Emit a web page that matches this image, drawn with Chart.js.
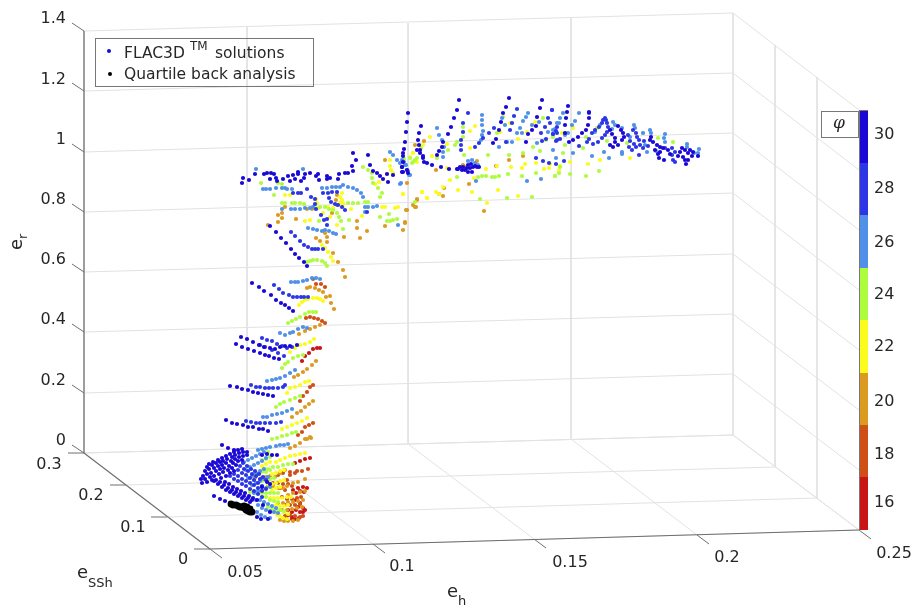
<!DOCTYPE html>
<html>
<head>
<meta charset="utf-8">
<style>
  html, body { margin: 0; padding: 0; background: #fff; }
  canvas { display: block; }
</style>
<script src="https://cdn.jsdelivr.net/npm/chart.js@4"></script>
</head>
<body>
<canvas id="chart" width="915" height="609"></canvas>
<script>
// solutions as they land on the view plane of the 3D plot, one list per phi class
const phi30 = [
  [222,445],[228,448],[234,450],[214,496],[220,499],[225,501],[231,503],
  [207,467],[212,465],[216,463],[220,462],[223,461],[227,459],[232,457],[235,455],[239,453],[243,452],[247,452],
  [209,464],[213,462],[218,460],[222,458],[226,456],[230,454],[234,452],[238,450],[242,449],
  [205,471],[209,469],[214,468],[218,466],[222,465],[226,463],[231,461],[235,459],[239,457],[243,456],[247,455],
  [203,476],[207,474],[211,473],[216,471],[220,469],[224,468],[229,466],[233,463],[238,461],[242,460],
  [201,479],[205,479],[210,477],[214,476],[219,474],[223,472],[228,470],[232,468],[236,465],
  [202,483],[207,482],[212,480],[216,480],[221,478],[226,476],[230,473],[234,471],
  [214,481],[218,484],[222,487],[226,490],[230,492],[234,494],[238,496],[242,498],[246,500],[250,502],
  [225,482],[229,484],[233,487],[237,489],[241,491],[245,493],[249,496],[253,498],[257,500],
  [220,482],[224,485],[228,488],[232,490],[236,492],[240,494],[244,496],[248,498],[252,500],
  [262,455],[267,454],[272,455],[277,455],[257,517],[261,519],[268,519],[270,484],[267,482],[262,487],[263,505],[270,512],
  [252,283],[259,287],[264,291],[271,295],[276,300],[281,303],[285,305],[289,308],[293,311],
  [241,337],[247,339],[253,342],[259,345],[264,347],[270,348],[275,349],[280,347],[285,346],[290,346],[297,345],
  [236,344],[242,347],[248,349],[254,351],[260,353],[265,355],[269,356],[274,358],[279,359],
  [230,386],[237,387],[242,389],[248,390],[253,392],[258,393],[263,394],[268,395],[273,396],
  [226,420],[232,423],[237,424],[243,425],[248,427],[253,427],[259,429],[263,429],[268,431],
  [242,183],[243,178],[249,180],[255,174],[264,174],[267,173],[271,173],[274,174],[270,179],[276,178],[277,181],[283,179],
  [288,176],[290,181],[293,175],[298,174],[298,172],[295,179],[301,181],[304,178],[305,174],[310,173],[316,176],[318,174],
  [319,180],[327,176],[327,179],[330,178],[339,174],[338,179],[345,173],[348,173],[353,171],[352,166],[356,160],[353,153],
  [270,226],[276,232],[281,238],[286,243],[291,249],[295,254],[299,258],[304,262],[307,266],
  [368,155],[370,165],[373,171],[377,173],[380,176],[383,179],[388,182],[393,175],[387,174],[403,153],[402,167],[403,172],[407,170],[408,173],
  [417,150],[420,153],[423,158],
  [459,100],[457,110],[454,118],[451,127],[448,134],[443,142],[442,147],[439,151],[437,155],
  [421,126],[419,133],[418,140],[419,145],[420,150],[423,156],[424,162],[427,163],[432,165],[441,167],[449,169],[457,169],
  [408,113],[407,122],[406,132],[405,142],[404,149],[403,156],[403,162],[402,167],[402,172],
  [509,98],[506,107],[503,113],[501,122],[499,130],[496,139],[493,143],
  [542,100],[540,108],[537,117],[536,126],[532,130],[528,134],[526,142],
  [458,169],[462,170],[463,167],[465,170],[467,168],[468,165],[470,168],[472,172],[473,167],[475,166],[477,167],[479,167],[471,164],[468,172],[460,167],
  [568,106],[567,112],[566,118],[565,125],[565,133],
  [589,112],[589,118],[588,125],[586,130],[582,133],[578,137],[573,140],[569,142],
  [618,126],[621,130],[623,133],[624,137],[622,140],[618,145],[613,147],
  [610,130],[612,134],[615,138],[615,142],[610,145],
  [651,137],[650,140],[653,142],[657,145],[660,147],[663,148],[660,152],[659,158],[664,160],
  [655,150],[658,154],[668,150],[670,154],[678,156],[680,152],[690,150],[692,156],[688,160],
  [682,148],[685,150],[688,153],[683,157],[685,160],[686,164],[693,152],[698,156]
];
const phi28 = [
  [230,476],[234,479],[238,481],[242,484],[246,486],[250,489],[254,491],[258,494],[262,497],
  [238,470],[242,473],[246,475],[250,478],[254,480],[258,483],[262,486],[266,489],
  [243,463],[247,466],[251,469],[255,471],[259,474],[263,477],[266,480],
  [234,474],[238,476],[242,479],[246,481],[250,483],[254,485],[258,488],[262,491],
  [240,466],[244,469],[248,471],[252,474],[256,476],[260,479],
  [274,285],[279,289],[283,293],[289,295],[293,297],[297,297],[301,297],[304,297],[308,297],
  [262,338],[267,340],[272,341],[277,344],[282,346],[287,348],[292,347],
  [260,345],[265,347],[272,350],[278,353],[284,356],
  [251,385],[256,387],[260,387],[265,388],[269,388],[273,388],[278,388],[283,387],[285,385],
  [246,421],[251,422],[256,423],[260,423],[265,423],[270,423],[276,423],[281,422],
  [293,193],[298,193],[301,193],[307,189],[311,197],[323,193],[328,193],[332,192],[337,192],
  [315,199],[315,204],[329,198],[331,202],[335,204],[338,205],[342,207],[345,210],[367,212],
  [291,232],[295,236],[300,241],[304,245],[308,247],[312,249],[315,249],[318,249],[323,249],
  [316,209],[321,215],[327,219],[327,225],[324,220],
  [468,113],[463,123],[463,132],[461,140],[461,145],[461,150],
  [494,128],[489,133],[483,138],[479,143],[475,147],
  [517,109],[514,116],[512,123],[510,130],[506,142],
  [552,110],[548,118],[545,127],[541,133],[546,139],[542,141],[557,127],[553,134],[557,140],[557,133],
  [536,158],[543,161],[549,163],[556,164],
  [589,113],[603,120],[605,118],[602,123],[599,127],[595,130],[592,133],[589,139],[593,144],
  [606,120],[607,123],[608,127],[607,132],[605,135],[602,138],[598,142],
  [633,130],[636,133],[637,137],[639,140],[640,145],[636,147],[632,150],[629,147],[639,155],
  [628,135],[630,141],[634,144],[643,148],[644,141],[648,146],
  [665,148],[672,148],[675,152],[672,155],[673,160],[675,162],
  [552,110],[550,123],[556,131],[553,134],[556,141],[560,139],[564,161],[587,142],[579,146]
];
const phi26 = [
  [258,450],[262,449],[266,448],[270,447],[276,446],[280,445],[284,445],[288,444],
  [244,462],[248,460],[252,458],[256,456],[260,454],[264,452],
  [246,470],[250,467],[254,465],[258,463],[262,461],[266,458],
  [248,478],[252,476],[256,473],[260,471],[264,469],
  [252,485],[256,483],[260,481],[264,479],[268,477],
  [254,493],[258,491],[262,490],[266,488],[270,487],
  [256,500],[260,500],[264,502],[268,504],[272,506],[276,508],
  [258,505],[262,508],[266,510],[270,511],[274,512],[278,513],
  [257,512],[261,515],[265,517],[270,518],
  [291,282],[295,282],[298,282],[303,281],[307,280],[312,278],[316,278],[320,279],
  [280,333],[285,335],[290,333],[293,332],[298,329],[303,327],[307,328],
  [267,381],[272,380],[276,379],[280,378],[285,376],[290,373],[295,370],
  [263,417],[267,417],[272,415],[277,414],[282,413],[287,411],[292,409],
  [256,169],[303,169],[263,189],[266,189],[270,189],[276,188],[282,188],[285,188],[287,189],[292,189],
  [322,188],[327,188],[332,187],[336,187],[340,187],[343,185],[348,187],[353,188],[357,190],[361,193],[363,197],
  [282,209],[291,209],[295,209],[300,209],[305,208],[310,208],[313,207],
  [308,228],[313,229],[317,230],[322,231],[325,230],[329,231],[333,233],[336,234],
  [365,207],[365,212],[368,207],[373,207],[377,206],
  [390,152],[393,155],[397,160],[400,163],[405,165],[408,171],[410,175],[398,225],[401,183],
  [468,161],[472,160],[475,163],[478,165],[476,181],
  [437,128],[439,135],[442,140],[444,147],[443,152],[443,157],
  [482,115],[482,120],[482,125],[483,131],[482,135],[481,140],
  [406,165],[407,170],[409,175],[402,160],[404,162],
  [502,118],[505,125],[499,147],[507,142],[512,142],[517,133],[520,128],[523,121],[528,113],[526,117],
  [537,143],[527,181],[541,179],[522,133],[532,125],[539,122],[548,132],[553,130],[559,123],[400,184],
  [563,113],[560,118],[557,123],[555,129],[579,113],[575,121],[572,125],[568,133],[565,135],
  [600,125],[595,132],[613,122],[615,125],[612,129],[622,128],[634,125],[635,128],[630,137],[643,133],
  [650,130],[651,133],[665,134],[664,138],[665,142],[687,144],[687,147],[699,149],[698,153],[694,153],
  [553,150],[573,153],[556,158],[592,156],[609,158],[604,152],[622,152],[647,152],[656,151],[645,145],[622,154]
];
const phi24 = [
  [268,452],[263,470],[268,469],[273,467],[278,467],[283,465],[288,464],[293,464],
  [254,474],[258,474],[262,472],[266,472],[270,470],
  [250,492],[254,492],[258,492],[262,493],[266,493],[270,493],[274,493],[278,493],
  [262,481],[266,480],[270,479],[274,478],[266,497],[270,500],[274,501],[278,502],
  [268,507],[272,509],[276,510],[280,510],[284,511],[262,460],[266,459],[270,457],
  [288,323],[292,321],[296,319],[300,317],[305,314],[309,312],[313,312],[316,312],
  [282,368],[285,364],[288,362],[293,358],[298,356],[303,355],
  [276,407],[280,404],[284,402],[290,400],[295,398],[300,396],
  [272,439],[277,438],[282,436],[287,435],[292,433],[296,432],
  [261,183],[274,195],[278,183],[282,184],[282,203],[285,203],[292,203],[295,203],[300,203],[304,204],
  [315,205],[320,207],[325,207],[329,209],[333,210],[337,213],[339,217],[341,221],[343,229],
  [319,221],[349,220],[348,203],[353,203],[358,203],[365,202],[368,202],[363,167],[368,170],[372,173],[372,178],[373,183],[378,188],[382,193],[380,197],
  [389,214],[380,217],[387,221],[390,221],[393,220],[397,219],
  [307,262],[310,261],[313,260],[317,260],[322,261],[325,263],[327,266],[404,159],[412,163],[415,160],
  [463,127],[463,132],[463,137],[457,142],[455,145],[448,150],[417,158],[413,162],[410,158],[421,148],[437,158],[488,155],
  [457,177],[478,177],[482,176],[486,176],[492,177],[495,177],[499,176],[508,174],[509,155],[522,176],[536,173],[555,176],
  [523,153],[533,147],[540,151],[546,140],[543,118],[503,117],[497,133],[480,199],[507,198],[532,197],[464,155],[415,202],
  [553,137],[565,145],[563,153],[586,137],[583,148],[597,128],[607,141],[627,143],[643,133],[658,138],[673,142],
  [560,167],[559,173],[555,176],[570,174],[586,176],[599,171]
];
const phi22 = [
  [276,462],[280,460],[285,458],[290,456],[295,455],[300,454],[305,453],[262,466],[266,464],[270,462],
  [272,474],[276,473],[280,471],[284,470],[268,484],[272,484],[276,483],[280,481],[284,480],
  [270,498],[274,498],[278,498],[282,498],[287,497],[291,497],[276,505],[280,506],[284,506],[288,505],
  [277,515],[280,516],[283,518],[287,519],[272,490],[276,488],[280,487],[280,510],[284,512],[288,514],
  [299,305],[302,302],[305,300],[308,299],[313,298],[317,298],[320,299],[323,301],
  [290,352],[295,348],[300,345],[305,344],[310,342],[314,339],
  [287,393],[290,388],[295,387],[300,385],[305,382],[309,381],
  [282,429],[287,427],[292,425],[297,423],[302,421],[307,418],
  [285,195],[290,195],[300,193],[316,199],[317,203],[328,207],[333,208],[340,197],[342,200],[343,203],[343,207],[340,203],[342,193],
  [305,221],[310,220],[318,208],[323,213],[330,217],[337,225],
  [351,209],[362,216],[367,207],[375,184],[379,182],[387,174],[390,166],[390,160],[391,170],[393,173],[382,207],[385,207],[395,208],[398,207],
  [410,157],[413,153],[417,162],[403,194],[422,192],[427,198],[322,245],[325,248],[328,252],[331,257],[333,261],
  [430,137],[423,145],[413,153],[432,156],[447,168],[450,180],[458,190],[472,192],[498,190],[518,196],[487,203],[427,198],
  [422,192],[436,192],[443,187],[439,194],[403,194],[475,126],[470,131],[470,148],[447,144],[500,132],[510,123],[518,139],
  [525,164],[522,168],[511,167],[497,166],[486,169],[474,178],[536,163],[544,169],[559,170],[549,168],[527,132],[535,122],
  [573,128],[562,133],[570,162],[560,166],[588,164],[600,160],[630,158],[550,164]
];
const phi20 = [
  [255,478],[262,479],[268,480],[275,477],[280,473],[285,470],[262,478],[266,477],[270,476],
  [293,483],[298,482],[305,479],[287,486],[283,488],[293,493],[300,492],[305,491],[288,495],
  [278,503],[283,503],[288,502],[293,502],[298,501],[303,500],[282,510],[287,510],[292,509],[297,508],[302,507],
  [280,520],[284,521],[288,521],[293,521],[298,520],[290,448],[295,446],[300,443],[305,439],[310,437],[268,486],[273,486],[278,488],
  [307,288],[310,287],[315,288],[319,290],[323,292],[326,297],[330,296],[331,303],[334,309],[343,270],[345,277],
  [299,334],[305,331],[310,329],[315,327],[320,325],
  [294,377],[298,375],[303,372],[307,369],[312,365],[316,361],
  [292,417],[297,413],[301,411],[305,407],[309,404],[313,401],[307,439],[311,438],
  [285,207],[282,213],[278,215],[282,218],[278,222],[296,219],[268,225],[307,209],[312,209],[332,213],[336,200],[337,205],[337,195],
  [357,221],[357,228],[367,231],[344,237],[360,238],[325,233],[327,237],[327,242],[316,238],[320,241],[333,253],[338,262],
  [385,160],[407,183],[403,230],[405,222],[407,210],[413,205],[417,200],[415,207],[385,226],
  [424,141],[415,145],[436,170],[469,184],[477,161],[496,166],[509,160],[523,156],[417,199],[416,207],[406,210],[405,223],
  [444,188],[439,194],[443,196],[484,211],[463,165],[465,167]
];
const phi18 = [
  [278,475],[283,473],[290,472],[297,471],[287,480],[290,475],[295,473],[302,471],[308,469],
  [273,483],[278,483],[283,484],[288,484],[292,486],[282,497],[287,499],[292,499],[297,498],[301,497],
  [285,505],[290,505],[295,505],[300,504],[280,488],[285,490],[285,516],[290,515],[295,516],[300,517],[303,516],
  [313,279],[316,284],[321,284],[325,287],[306,318],[310,317],[314,318],[318,319],[322,321],[325,323],
  [300,401],[303,396],[307,392],[310,387],[313,385],[298,435],[302,432],[305,427],[309,425],[313,423]
];
const phi16 = [
  [295,463],[300,461],[305,459],[310,458],[293,490],[298,488],[303,487],[307,488],[296,493],[300,491],[304,492],
  [296,500],[300,503],[298,507],[303,508],[305,510],[292,519],[295,519],[299,518],[288,510],[292,512],[296,510],[300,512],[303,512],[287,516],[292,517],
  [302,361],[305,356],[309,353],[313,349],[317,348],[320,348]
];
const quartile = [
  [231,504],[233,505],[236,505],[238,506],[240,507],[242,507],[244,508],[246,510],[248,511],[250,512],[252,512],[250,509],[247,507],[244,506]
];

const phiColors = ["#1a08d6", "#2c36e6", "#4f90e8", "#aefc3f", "#fbfb1e", "#dc9a20", "#cf5016", "#c81616"];

// axis ticks
const erTicks = ["0", "0.2", "0.4", "0.6", "0.8", "1", "1.2", "1.4"];
const esshTicks = ["0.3", "0.2", "0.1", "0"];
const ehTicks = ["0.05", "0.1", "0.15", "0.2", "0.25"];
const phiTicks = ["30", "28", "26", "24", "22", "20", "18", "16"];

// box of the 3D view
const erLeft = [453, 393, 332, 272, 212, 152, 91, 31];
const erBack = [435, 374, 314, 254, 193, 133, 73, 13];
const erRight = [530, 470, 410, 350, 290, 230, 170, 110];
const ehBack = [[84, 453], [247, 449], [408, 444], [571, 439], [733, 435]];
const ehFront = [[210, 549], [373, 544], [534, 539], [697, 535], [859, 530]];
const esshLeft = [[84, 453], [126, 485], [167, 517], [210, 549]];
const esshRight = [[733, 435], [775, 467], [817, 498], [859, 530]];
const wallTop = [31, 27, 23, 18, 13];
const sideTop = [13, 45, 77, 110];
const phiEdges = [111, 163, 215, 268, 320, 373, 425, 477, 530];

function seg(a, b, color, width, order) {
  return {
    type: "scatter", showLine: true, pointRadius: 0, data: [{ x: a[0], y: a[1] }, { x: b[0], y: b[1] }],
    borderColor: color, borderWidth: width, order: order,
  };
}

const gridColor = "#e2e2e2";
const axisColor = "#6e6e6e";
const datasets = [];

erLeft.forEach((y, i) => {
  datasets.push(seg([84, y], [733, erBack[i]], gridColor, 1, 20));
  datasets.push(seg([733, erBack[i]], [859, erRight[i]], gridColor, 1, 20));
  datasets.push(seg([72, y - 8], [84, y], axisColor, 1, 15));
});
ehBack.forEach((p, i) => {
  datasets.push(seg(p, ehFront[i], gridColor, 1, 20));
  datasets.push(seg([p[0], wallTop[i]], p, gridColor, 1, 20));
  datasets.push(seg(ehFront[i], [ehFront[i][0] + 12, ehFront[i][1] + 9], axisColor, 1, 15));
});
esshLeft.forEach((p, i) => {
  datasets.push(seg(p, esshRight[i], gridColor, 1, 20));
  datasets.push(seg([p[0] - 16, p[1]], p, axisColor, 1, 15));
  if (i > 0 && i < 3) datasets.push(seg([esshRight[i][0], sideTop[i]], esshRight[i], gridColor, 1, 20));
});
datasets.push(seg([84, 31], [84, 453], axisColor, 1.2, 15));
datasets.push(seg([84, 453], [210, 549], axisColor, 1.2, 15));
datasets.push(seg([210, 549], [859, 530], axisColor, 1.2, 15));

phiColors.forEach((c, i) => {
  datasets.push(seg([864, phiEdges[i]], [864, phiEdges[i + 1]], c, 8, 5));
});

[phi16, phi18, phi20, phi22, phi24, phi26, phi28, phi30].forEach((list, i) => {
  datasets.push({
    type: "scatter", data: list.map((p) => ({ x: p[0], y: p[1] })), pointRadius: 2.1, pointBorderWidth: 0,
    pointBackgroundColor: phiColors[7 - i], order: 10 - i,
  });
});
datasets.push({
  type: "scatter", data: quartile.map((p) => ({ x: p[0], y: p[1] })), pointRadius: 3.4, pointBorderWidth: 0,
  pointBackgroundColor: "#000", order: 1,
});
datasets.push({
  type: "scatter", data: [{ x: 109, y: 51 }], pointRadius: 2, pointBorderWidth: 0, pointBackgroundColor: "#1a08d6", order: 0,
});
datasets.push({
  type: "scatter", data: [{ x: 110, y: 74 }], pointRadius: 2, pointBorderWidth: 0, pointBackgroundColor: "#000", order: 0,
});

// everything that is text or a box goes in here
const labelsPlugin = {
  id: "labels",
  beforeDatasetsDraw(chart) {
    const { ctx, scales } = chart;
    const px = (x) => scales.x.getPixelForValue(x);
    const py = (y) => scales.y.getPixelForValue(y);
    ctx.save();
    ctx.strokeStyle = "#777";
    ctx.lineWidth = 1;
    ctx.strokeRect(px(860) - 0.5, py(111) - 0.5, 8, 419);
    ctx.restore();
  },
  afterDatasetsDraw(chart) {
    const { ctx, scales } = chart;
    const px = (x) => scales.x.getPixelForValue(x);
    const py = (y) => scales.y.getPixelForValue(y);
    const tickFont = '16px "DejaVu Sans"';
    const put = (s, x, y, align, font) => {
      ctx.font = font || tickFont;
      ctx.textAlign = align || "center";
      ctx.fillText(s, px(x), py(y));
    };
    ctx.save();
    ctx.strokeStyle = "#777";
    ctx.lineWidth = 1;
    ctx.strokeRect(px(95) + 0.5, py(38) + 0.5, 218, 48);
    ctx.fillStyle = "#fff";
    ctx.fillRect(px(821), py(111), 37, 26);
    ctx.strokeRect(px(821) + 0.5, py(111) + 0.5, 37, 26);
    ctx.fillStyle = "#262626";
    ctx.textBaseline = "middle";

    const erLabelY = [441, 381, 320, 260, 200, 140, 80, 19];
    erTicks.forEach((t, i) => put(t, 66, erLabelY[i], "right"));
    const esshLabelX = [49, 91, 133, 183];
    const esshLabelY = [465, 496, 528, 560];
    esshTicks.forEach((t, i) => put(t, esshLabelX[i], esshLabelY[i]));
    const ehLabelX = [245, 402, 570, 727, 894];
    const ehLabelY = [573, 567, 563, 558, 554];
    ehTicks.forEach((t, i) => put(t, ehLabelX[i], ehLabelY[i]));
    const phiLabelY = [135, 189, 243, 295, 347, 402, 455, 503];
    phiTicks.forEach((t, i) => put(t, 874, phiLabelY[i], "left"));

    // axis titles
    put("e", 77, 573, "left", '18px "DejaVu Sans"');
    put("SSh", 88, 584, "left", '13px "DejaVu Sans"');
    put("e", 447, 592, "left", '18px "DejaVu Sans"');
    put("h", 458, 602, "left", '13px "DejaVu Sans"');
    ctx.save();
    ctx.translate(px(17), py(250));
    ctx.rotate(-Math.PI / 2);
    ctx.font = '18px "DejaVu Sans"';
    ctx.textAlign = "left";
    ctx.fillText("e", 0, 0);
    ctx.font = '13px "DejaVu Sans"';
    ctx.fillText("r", 11, 7);
    ctx.restore();

    // legend
    put("FLAC3D", 124, 54, "left", '15.5px "DejaVu Sans"');
    put("TM", 190, 47, "left", '12px "DejaVu Sans"');
    put("solutions", 215, 54, "left", '15.5px "DejaVu Sans"');
    put("Quartile back analysis", 124, 75, "left", '15.5px "DejaVu Sans"');

    // colourbar title
    put("\u03C6", 839, 124, "center", 'italic 17px "DejaVu Serif"');
    ctx.restore();
  },
};

new Chart(document.getElementById("chart"), {
  type: "scatter",
  data: { datasets },
  options: {
    responsive: false,
    animation: false,
    layout: { padding: 0, autoPadding: false },
    plugins: { legend: { display: false }, tooltip: { enabled: false } },
    scales: {
      x: { type: "linear", display: false, min: 0, max: 915 },
      y: { type: "linear", display: false, min: 0, max: 609, reverse: true },
    },
  },
  plugins: [labelsPlugin],
});
</script>
</body>
</html>
